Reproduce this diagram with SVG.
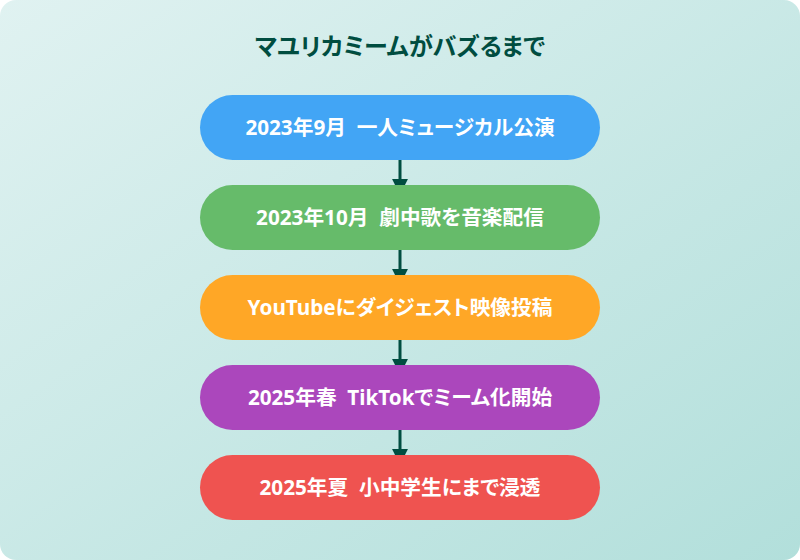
<svg xmlns="http://www.w3.org/2000/svg" width="800" height="560" viewBox="0 0 800 560">
<defs>
<linearGradient id="bg" x1="0" y1="0" x2="1" y2="1">
<stop offset="0" stop-color="#e0f2f1"/>
<stop offset="1" stop-color="#b2dfdb"/>
</linearGradient>
<marker id="ah" viewBox="0 0 10 10" refX="5" refY="5" markerWidth="5.3" markerHeight="5.3" orient="auto" markerUnits="strokeWidth">
<path d="M0,0 L10,5 L0,10 z" fill="#004d40"/>
</marker>
</defs>
<style>
.t{font-family:"Noto Sans","Noto Sans CJK JP",sans-serif;font-weight:bold;text-anchor:middle;font-feature-settings:"palt"}
.title{font-size:24px;fill:#004d40}
.lbl{font-size:20.7px;fill:#ffffff}
.c{stroke:#004d40;stroke-width:3;fill:none}
</style>
<rect x="0" y="0" width="800" height="560" rx="16" fill="url(#bg)"/>
<text class="t title" x="400" y="55">マユリカミームがバズるまで</text>
<g id="connectors">
<line class="c" x1="400" y1="160" x2="400" y2="187" marker-end="url(#ah)"/>
<line class="c" x1="400" y1="250" x2="400" y2="277" marker-end="url(#ah)"/>
<line class="c" x1="400" y1="340" x2="400" y2="367" marker-end="url(#ah)"/>
<line class="c" x1="400" y1="430" x2="400" y2="457" marker-end="url(#ah)"/>
</g>
<g id="n1"><rect x="200" y="95" width="400" height="65" rx="32.5" fill="#42a5f5"/><text class="t lbl" x="400" y="135" xml:space="preserve">2023年9月  一人ミュージカル公演</text></g>
<g id="n2"><rect x="200" y="185" width="400" height="65" rx="32.5" fill="#66bb6a"/><text class="t lbl" x="400" y="225" xml:space="preserve">2023年10月  劇中歌を音楽配信</text></g>
<g id="n3"><rect x="200" y="275" width="400" height="65" rx="32.5" fill="#ffa726"/><text class="t lbl" x="400" y="315">YouTubeにダイジェスト映像投稿</text></g>
<g id="n4"><rect x="200" y="365" width="400" height="65" rx="32.5" fill="#ab47bc"/><text class="t lbl" x="400" y="405" xml:space="preserve">2025年春  TikTokでミーム化開始</text></g>
<g id="n5"><rect x="200" y="455" width="400" height="65" rx="32.5" fill="#ef5350"/><text class="t lbl" x="400" y="495" xml:space="preserve">2025年夏  小中学生にまで浸透</text></g>
</svg>
